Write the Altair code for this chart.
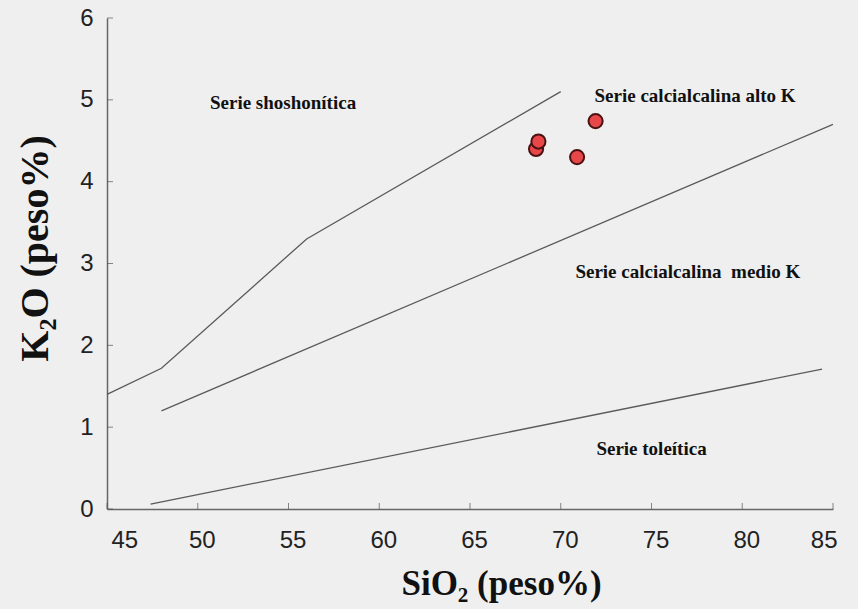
import altair as alt
import pandas as pd

# Boundary lines (SiO2, K2O)
upper_x = [45, 48, 56, 70]
upper_y = [1.4, 1.72, 3.3, 5.1]
middle_x = [48, 85]
middle_y = [1.2, 4.7]
lower_x = [47.4, 84.4]
lower_y = [0.06, 1.71]

# Samples
sample_x = [68.64, 68.77, 70.9, 71.92]
sample_y = [4.40, 4.49, 4.30, 4.74]

# Field labels
label_text = ["Serie shoshonítica", "Serie calcialcalina alto K",
              "Serie calcialcalina\u00a0 medio K", "Serie toleítica"]
label_x = [54.7, 77.4, 77.0, 75.0]
label_y = [4.96, 5.05, 2.90, 0.73]

x_ticks = [45, 50, 55, 60, 65, 70, 75, 80, 85]
y_ticks = [0, 1, 2, 3, 4, 5, 6]

W, H = 726, 491

lines = pd.DataFrame(
    [{"x": a, "y": b, "s": "upper", "o": i} for i, (a, b) in enumerate(zip(upper_x, upper_y))]
    + [{"x": a, "y": b, "s": "middle", "o": i} for i, (a, b) in enumerate(zip(middle_x, middle_y))]
    + [{"x": a, "y": b, "s": "lower", "o": i} for i, (a, b) in enumerate(zip(lower_x, lower_y))]
)
samples = pd.DataFrame({"x": sample_x, "y": sample_y})
labels = pd.DataFrame({"t": label_text, "x": label_x, "y": label_y})
xt = pd.DataFrame({"v": x_ticks})
yt = pd.DataFrame({"v": y_ticks})

xs = alt.Scale(domain=[45, 85], nice=False, zero=False)
ys = alt.Scale(domain=[0, 6], nice=False)

x_axis = alt.Axis(values=x_ticks, format="d", title="SiO₂ (peso%)", grid=False, tickSize=0,
                  labelPadding=19, labelOffset=4, titleX=394, titleY=74,
                  titleBaseline="middle", titleAlign="center", titleFontSize=35)
y_axis = alt.Axis(values=y_ticks, format="d", title="K₂O (peso%)", grid=False, tickSize=0,
                  labelPadding=14, titleX=-72, titleY=230, titleAngle=270,
                  titleBaseline="middle", titleAlign="center", titleFontSize=40)

base_lines = alt.Chart(lines).mark_line(color="#5a5a5a", strokeWidth=1.3).encode(
    x=alt.X("x:Q", scale=xs, axis=x_axis),
    y=alt.Y("y:Q", scale=ys, axis=y_axis),
    detail="s:N",
    order="o:Q",
)

pts = alt.Chart(samples).mark_point(
    filled=True, fill="#e8474a", stroke="#4a1212", strokeWidth=2, size=200, opacity=1
).encode(x=alt.X("x:Q", scale=xs), y=alt.Y("y:Q", scale=ys))

txt = alt.Chart(labels).mark_text(
    font="Liberation Serif", fontWeight="bold", fontSize=19, color="#111111",
    align="center", baseline="middle"
).encode(x=alt.X("x:Q", scale=xs), y=alt.Y("y:Q", scale=ys), text="t:N")

xticks = alt.Chart(xt).mark_tick(orient="vertical", size=6, thickness=1, color="#555555").encode(
    x=alt.X("v:Q", scale=xs), y=alt.value(H - 3)
)
yticks = alt.Chart(yt).mark_tick(orient="horizontal", size=6, thickness=1, color="#555555").encode(
    y=alt.Y("v:Q", scale=ys), x=alt.value(3)
)

chart = alt.layer(base_lines, xticks, yticks, pts, txt).properties(
    width=W, height=H,
    autosize=alt.AutoSizeParams(type="none"),
    padding={"left": 107, "top": 18, "right": 25, "bottom": 100},
    background="#efefef",
).configure_view(stroke=None).configure_axis(
    domainColor="#666666", domainWidth=1.5,
    labelFont="Liberation Sans", labelFontSize=24, labelColor="#222222",
    titleFont="Liberation Serif", titleFontWeight="bold", titleColor="#111111",
)

chart.save("out.html", embed_options={"renderer": "svg", "actions": False})
